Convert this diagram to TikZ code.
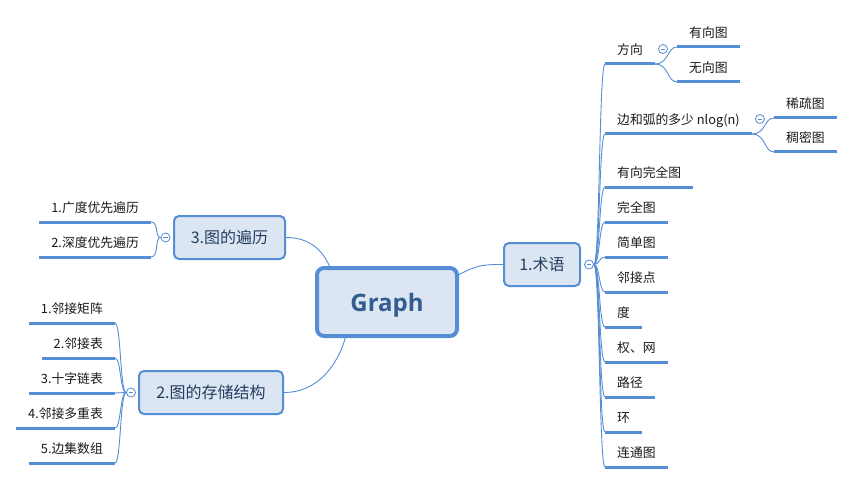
\documentclass[tikz,border=0pt]{standalone}
\usepackage{fontspec}
\setmainfont{Noto Sans CJK SC}
\newfontfamily\titlefont{Open Sans}
\usetikzlibrary{calc,backgrounds}
\definecolor{mapblue}{RGB}{85,142,213}
\definecolor{boxfill}{RGB}{220,230,242}
\definecolor{boxtext}{RGB}{36,60,96}
\definecolor{titletext}{RGB}{50,93,145}
\definecolor{itemtext}{RGB}{25,25,25}
\begin{document}
\begin{tikzpicture}[x=1pt,y=-1pt,
  root/.style={draw=mapblue, fill=boxfill, line width=4pt, rounded corners=7pt,
    minimum width=140pt, minimum height=68pt, inner sep=0pt, text depth=0pt,
    font=\titlefont\bfseries\fontsize{24}{28}\selectfont, text=titletext},
  topic/.style={draw=mapblue, fill=boxfill, line width=2pt, rounded corners=5pt,
    minimum height=43pt, inner sep=0pt, text=boxtext,
    font=\fontsize{16}{18}\selectfont},
  item/.style={inner xsep=12pt, inner ysep=6pt, text height=10pt, text depth=3pt,
    text=itemtext, font=\fontsize{12.8}{14}\selectfont},
  uline/.style={draw=mapblue, line width=3pt},
  link/.style={draw=mapblue, line width=0.9pt},
  fold/.style={circle, draw=mapblue, fill=white, line width=0.8pt, minimum size=9pt,
    inner sep=0pt, path picture={\draw[mapblue, line width=0.7pt]
      ([xshift=-2.3pt]path picture bounding box.center) --
      ([xshift=2.3pt]path picture bounding box.center);}}
]
\useasboundingbox (0,0) rectangle (854,484);

% central topic and main branches
\node[root] (root) at (387,302) {Graph};
\node[topic, minimum width=76pt] (t1) at (542,264.5) {1.术语};
\node[topic, minimum width=111pt] (t3) at (229.5,237.5) {3.图的遍历};
\node[topic, minimum width=144pt] (t2) at (211,392.5) {2.图的存储结构};

\node[fold] (f1) at ($(t1.east)+(8,0)$) {};
\node[fold] (f3) at ($(t3.west)+(-7.5,0)$) {};
\node[fold] (f2) at ($(t2.west)+(-7,0)$) {};

% terms
\node[item, anchor=south west] (r1) at (605,64) {方向};
\node[item, anchor=south west] (r2) at (605,134) {边和弧的多少 nlog(n)};
\node[item, anchor=south west] (r3) at (605,187) {有向完全图};
\node[item, anchor=south west] (r4) at (605,222) {完全图};
\node[item, anchor=south west] (r5) at (605,257) {简单图};
\node[item, anchor=south west] (r6) at (605,292) {邻接点};
\node[item, anchor=south west] (r7) at (605,327) {度};
\node[item, anchor=south west] (r8) at (605,362) {权、网};
\node[item, anchor=south west] (r9) at (605,397) {路径};
\node[item, anchor=south west] (r10) at (605,432) {环};
\node[item, anchor=south west] (r11) at (605,467) {连通图};

\node[item, anchor=south west] (d1) at (677,47) {有向图};
\node[item, anchor=south west] (d2) at (677,82) {无向图};
\node[item, anchor=south west] (s1) at (774,118) {稀疏图};
\node[item, anchor=south west] (s2) at (774,152) {稠密图};
\node[fold] (fd) at ($(r1.south east)+(8,-15)$) {};
\node[fold] (fs) at ($(r2.south east)+(8,-15)$) {};

% traversal
\node[item, anchor=south east] (a1) at (151,222) {1.广度优先遍历};
\node[item, anchor=south east] (a2) at (151,257) {2.深度优先遍历};

% storage
\node[item, anchor=south east] (b1) at (115,323) {1.邻接矩阵};
\node[item, anchor=south east] (b2) at (115,358) {2.邻接表};
\node[item, anchor=south east] (b3) at (115,393) {3.十字链表};
\node[item, anchor=south east] (b4) at (115,428) {4.邻接多重表};
\node[item, anchor=south east] (b5) at (115,463) {5.边集数组};

\foreach \n in {r1,r2,r3,r4,r5,r6,r7,r8,r9,r10,r11,d1,d2,s1,s2,a1,a2,b1,b2,b3,b4,b5}
  \draw[uline] (\n.south west) -- (\n.south east);

\begin{scope}[on background layer]
  \draw[link] ($(root.north east)!0.12!(root.south east)$)
    .. controls +(18,-10) and +(-18,0) .. (t1.west);
  \draw[link] (t3.east) .. controls +(25,0) and +(-6,-14) ..
    ($(root.north west)!0.1!(root.north east)$);
  \draw[link] (t2.east) .. controls +(35,0) and +(-7,25) ..
    ($(root.south west)!0.21!(root.south east)$);

  \foreach \n in {r1,r2,r3,r4,r5,r6,r7,r8,r9,r10,r11}
    \draw[link] (f1.east) .. controls +(6,0) and +(-6,0) .. (\n.south west);
  \foreach \n in {a1,a2}
    \draw[link] (f3.west) .. controls +(-6,0) and +(8,0) .. (\n.south east);
  \foreach \n in {b1,b2,b3,b4,b5}
    \draw[link] (f2.west) .. controls +(-6,0) and +(6,0) .. (\n.south east);
  \foreach \n in {d1,d2}
    \draw[link] (r1.south east) .. controls +(14,0) and +(-10,0) .. (\n.south west);
  \foreach \n in {s1,s2}
    \draw[link] (r2.south east) .. controls +(14,0) and +(-10,0) .. (\n.south west);
\end{scope}
\end{tikzpicture}
\end{document}
